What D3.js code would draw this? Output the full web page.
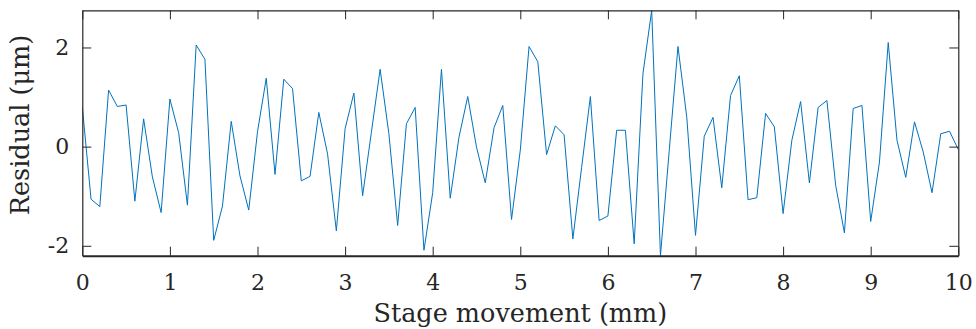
<!DOCTYPE html>
<html>
<head>
<meta charset="utf-8">
<script src="https://cdn.jsdelivr.net/npm/d3@7"></script>
<style>
  body { margin: 0; background: #fff; }
  svg { display: block; font-family: "DejaVu Serif", serif; }
</style>
</head>
<body>
<svg width="976" height="329"></svg>
<script>
const width = 976, height = 329;

// stage position (mm) and residual (um)
const positions = [0.0, 0.1, 0.2, 0.3, 0.4, 0.5, 0.6, 0.7, 0.8, 0.9,
  1.0, 1.1, 1.2, 1.3, 1.4, 1.5, 1.6, 1.7, 1.8, 1.9,
  2.0, 2.1, 2.2, 2.3, 2.4, 2.5, 2.6, 2.7, 2.8, 2.9,
  3.0, 3.1, 3.2, 3.3, 3.4, 3.5, 3.6, 3.7, 3.8, 3.9,
  4.0, 4.1, 4.2, 4.3, 4.4, 4.5, 4.6, 4.7, 4.8, 4.9,
  5.0, 5.1, 5.2, 5.3, 5.4, 5.5, 5.6, 5.7, 5.8, 5.9,
  6.0, 6.1, 6.2, 6.3, 6.4, 6.5, 6.6, 6.7, 6.8, 6.9,
  7.0, 7.1, 7.2, 7.3, 7.4, 7.5, 7.6, 7.7, 7.8, 7.9,
  8.0, 8.1, 8.2, 8.3, 8.4, 8.5, 8.6, 8.7, 8.8, 8.9,
  9.0, 9.1, 9.2, 9.3, 9.4, 9.5, 9.6, 9.7, 9.8, 9.9,
  10.0];
const residuals = [0.80, -1.06, -1.21, 1.14, 0.81, 0.84, -1.10, 0.56, -0.61, -1.33,
  0.96, 0.28, -1.18, 2.05, 1.76, -1.89, -1.20, 0.51, -0.59, -1.28,
  0.30, 1.38, -0.56, 1.36, 1.17, -0.69, -0.60, 0.69, -0.15, -1.70,
  0.36, 1.08, -0.99, 0.29, 1.56, 0.26, -1.59, 0.46, 0.79, -2.09,
  -0.93, 1.56, -1.04, 0.19, 1.01, -0.01, -0.73, 0.38, 0.83, -1.47,
  -0.07, 2.02, 1.71, -0.16, 0.42, 0.24, -1.86, -0.42, 1.01, -1.49,
  -1.40, 0.33, 0.33, -1.96, 1.47, 2.75, -2.20, -0.08, 2.02, 0.60,
  -1.79, 0.21, 0.59, -0.83, 1.03, 1.43, -1.07, -1.03, 0.67, 0.40,
  -1.35, 0.13, 0.91, -0.73, 0.79, 0.93, -0.78, -1.74, 0.77, 0.83,
  -1.51, -0.31, 2.10, 0.13, -0.62, 0.50, -0.11, -0.93, 0.26, 0.31,
  -0.06];

const xTicks = [0, 1, 2, 3, 4, 5, 6, 7, 8, 9, 10];
const yTicks = [-2, 0, 2];

const margin = {top: 10.3, right: 17.7, bottom: 73.3, left: 82.3};
const w = width - margin.left - margin.right,
      h = height - margin.top - margin.bottom;

const svg = d3.select("svg");
const g = svg.append("g")
    .attr("transform", `translate(${margin.left}, ${margin.top})`);

const x = d3.scaleLinear().domain([0, 10]).range([0, w]);
const y = d3.scaleLinear().domain([-2.2, 2.75]).range([h, 0]);

g.append("clipPath").attr("id", "clip")
  .append("rect").attr("width", w).attr("height", h);

// data line
const line = d3.line()
    .x((d, i) => x(positions[i]))
    .y(d => y(d));

g.append("path")
    .datum(residuals)
    .attr("clip-path", "url(#clip)")
    .attr("fill", "none")
    .attr("stroke", "#0072BD")
    .attr("stroke-width", 1)
    .attr("d", line);

// axes, ticks inward on all four sides
const tickLen = 9;
const fmt = d => String(d);   // plain hyphen, no decimals
const styleAxis = sel => {
  sel.select(".domain").attr("stroke", "#262626").attr("stroke-width", 1.2);
  sel.selectAll(".tick line").attr("stroke", "#262626").attr("stroke-width", 1);
  sel.selectAll("text").attr("fill", "#262626").attr("font-size", "22px")
     .attr("font-family", "DejaVu Serif");
};

g.append("g").attr("transform", `translate(0, ${h})`)
  .call(d3.axisBottom(x).tickValues(xTicks).tickFormat(fmt).tickSizeInner(-tickLen).tickSizeOuter(0).tickPadding(19))
  .call(styleAxis)
  .call(a => a.select(".domain").attr("stroke-width", 2));

g.append("g")
  .call(d3.axisTop(x).tickValues(xTicks).tickSizeInner(-tickLen).tickSizeOuter(0).tickFormat(""))
  .call(styleAxis);

g.append("g")
  .call(d3.axisLeft(y).tickValues(yTicks).tickFormat(fmt).tickSizeInner(-tickLen).tickSizeOuter(0).tickPadding(13))
  .call(styleAxis);

g.append("g").attr("transform", `translate(${w}, 0)`)
  .call(d3.axisRight(y).tickValues(yTicks).tickSizeInner(-tickLen).tickSizeOuter(0).tickFormat(""))
  .call(styleAxis);

// X label
g.append("text")
  .attr("x", w / 2)
  .attr("y", h + 66)
  .attr("font-size", "25.5px")
  .attr("fill", "#262626")
  .attr("text-anchor", "middle")
  .text("Stage movement (mm)");

// Y label
g.append("text")
  .attr("transform", `translate(${-53}, ${h / 2 - 8}) rotate(-90)`)
  .attr("font-size", "25.5px")
  .attr("fill", "#262626")
  .attr("text-anchor", "middle")
  .text("Residual (μm)");
</script>
</body>
</html>
